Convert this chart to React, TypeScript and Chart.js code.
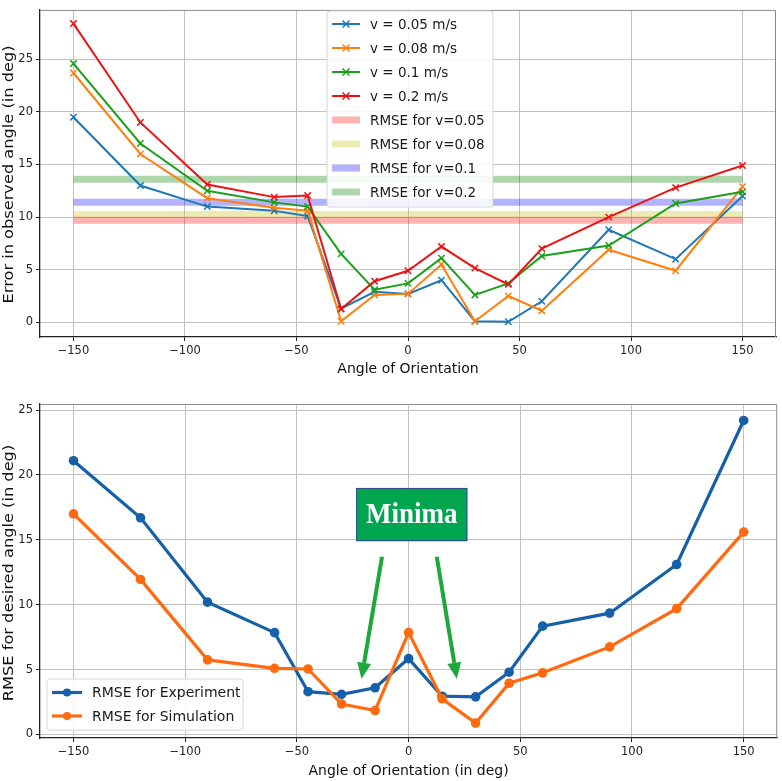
import { useEffect, useRef } from 'react';
import { Chart, registerables } from 'chart.js';

Chart.register(...registerables);

Chart.defaults.font.family = "'DejaVu Sans', sans-serif";
Chart.defaults.color = '#222';

// angles of orientation shared by both plots
const angles = [-150, -120, -90, -60, -45, -30, -15, 0, 15, 30, 45, 60, 90, 120, 150];

// top plot: error in observed angle per speed
const err005 = [19.5, 13.0, 11.0, 10.6, 10.1, 1.3, 2.9, 2.7, 4.0, 0.1, 0.05, 2.0, 8.8, 6.0, 12.0];
const err008 = [23.7, 16.0, 11.8, 10.9, 10.6, 0.1, 2.6, 2.7, 5.5, 0.1, 2.5, 1.1, 6.9, 4.9, 12.9];
const err01 = [24.6, 17.0, 12.5, 11.4, 11.0, 6.5, 3.1, 3.7, 6.1, 2.6, 3.7, 6.3, 7.3, 11.3, 12.4];
const err02 = [28.4, 19.0, 13.1, 11.9, 12.05, 1.25, 3.9, 4.9, 7.2, 5.15, 3.6, 7.0, 10.0, 12.8, 14.9];
const speedLabels = ['v = 0.05 m/s', 'v = 0.08 m/s', 'v = 0.1 m/s', 'v = 0.2 m/s'];
const speedColors = ['#1f77b4', '#ff7f0e', '#1aa01a', '#ee1111'];

// RMSE bands drawn across the angle span
const rmseLevels = [9.7, 10.25, 11.4, 13.6];
const rmseLabels = ['RMSE for v=0.05', 'RMSE for v=0.08', 'RMSE for v=0.1', 'RMSE for v=0.2'];
const rmseColors = ['rgba(255,0,0,0.3)', 'rgba(191,191,0,0.3)', 'rgba(0,0,255,0.3)', 'rgba(0,128,0,0.32)'];
const rmseSpan = [-150, 150];

// bottom plot: RMSE for desired angle
const rmseExperiment = [21.1, 16.7, 10.2, 7.85, 3.3, 3.1, 3.6, 5.85, 2.95, 2.9, 4.8, 8.35, 9.35, 13.1, 24.2];
const rmseSimulation = [17.0, 11.95, 5.75, 5.1, 5.05, 2.35, 1.85, 7.85, 2.75, 0.88, 3.95, 4.75, 6.75, 9.7, 15.6];
const bottomLabels = ['RMSE for Experiment', 'RMSE for Simulation'];
const bottomColors = ['#1560a8', '#ff6a10'];

const xTicks = [-150, -100, -50, 0, 50, 100, 150];
const yTicks = [0, 5, 10, 15, 20, 25];

const pts = (ys: number[]) => ys.map((y, i) => ({ x: angles[i], y }));
const minus = (v: number | string) => String(v).replace('-', '\u2212');

type LegendItem = { label: string; color: string; kind: 'cross' | 'band' | 'dot' };

// spines (top/right in grey), y title and an in-plot legend box like matplotlib's
const framePlugin = {
  id: 'frame',
  afterDraw(chart: any, _args: any, opts: any) {
    const { ctx, chartArea: a } = chart;
    ctx.save();
    ctx.strokeStyle = '#8a8a8a';
    ctx.lineWidth = 1;
    ctx.beginPath();
    ctx.moveTo(a.left, a.top + 0.5);
    ctx.lineTo(a.right - 0.5, a.top + 0.5);
    ctx.lineTo(a.right - 0.5, a.bottom);
    ctx.stroke();

    // y title: the source figure is stretched vertically, so stretch along the text
    if (opts.yTitle) {
      ctx.save();
      ctx.translate(opts.yTitleX, (a.top + a.bottom) / 2 + (opts.yTitleShift || 0));
      ctx.rotate(-Math.PI / 2);
      ctx.scale(1.2, 1);
      ctx.font = "13.5px 'DejaVu Sans', sans-serif";
      ctx.fillStyle = '#111';
      ctx.textAlign = 'center';
      ctx.textBaseline = 'middle';
      ctx.fillText(opts.yTitle, 0, 0);
      ctx.restore();
    }

    const lg = opts.legend;
    if (lg) {
      ctx.fillStyle = 'rgba(255,255,255,0.85)';
      ctx.strokeStyle = '#d6d6d6';
      ctx.beginPath();
      ctx.roundRect(lg.x, lg.y, lg.w, lg.h, 3);
      ctx.fill();
      ctx.stroke();
      ctx.font = `${lg.fontSize}px 'DejaVu Sans', sans-serif`;
      ctx.textBaseline = 'middle';
      lg.items.forEach((it: LegendItem, i: number) => {
        const cy = lg.firstRow + i * lg.rowH;
        const x0 = lg.x + lg.handleX0;
        const x1 = lg.x + lg.handleX1;
        const cx = (x0 + x1) / 2;
        ctx.strokeStyle = it.color;
        ctx.lineCap = 'butt';
        ctx.lineWidth = it.kind === 'band' ? 7 : it.kind === 'dot' ? 3.2 : 2;
        ctx.beginPath();
        ctx.moveTo(x0, cy);
        ctx.lineTo(x1, cy);
        ctx.stroke();
        if (it.kind === 'cross') {
          ctx.lineWidth = 1.5;
          ctx.beginPath();
          ctx.moveTo(cx - 3.5, cy - 3.5);
          ctx.lineTo(cx + 3.5, cy + 3.5);
          ctx.moveTo(cx - 3.5, cy + 3.5);
          ctx.lineTo(cx + 3.5, cy - 3.5);
          ctx.stroke();
        } else if (it.kind === 'dot') {
          ctx.fillStyle = it.color;
          ctx.beginPath();
          ctx.arc(cx, cy, 4, 0, Math.PI * 2);
          ctx.fill();
        }
        ctx.fillStyle = '#1a1a1a';
        ctx.fillText(it.label, lg.x + lg.textX, cy + 1);
      });
    }
    ctx.restore();
  },
};

// "Minima" label with two arrows, placed in data coordinates
const minimaBox = { x0: -23.5, x1: 26.3, y0: 19.0, y1: 14.9 };
const minimaArrows = [
  { from: [-11.9, 13.7], to: [-21.1, 4.3] },
  { from: [12.6, 13.7], to: [21.6, 4.3] },
];

const minimaPlugin = {
  id: 'minima',
  afterDatasetsDraw(chart: any) {
    const { ctx, scales } = chart;
    const sx = (v: number) => scales.x.getPixelForValue(v);
    const sy = (v: number) => scales.y.getPixelForValue(v);
    ctx.save();
    const bx = sx(minimaBox.x0);
    const by = sy(minimaBox.y0);
    const bw = sx(minimaBox.x1) - bx;
    const bh = sy(minimaBox.y1) - by;
    ctx.fillStyle = '#00a54f';
    ctx.fillRect(bx, by, bw, bh);
    ctx.strokeStyle = '#2f4f8f';
    ctx.lineWidth = 1;
    ctx.strokeRect(bx + 0.5, by + 0.5, bw - 1, bh - 1);
    ctx.save();
    ctx.fillStyle = '#ffffff';
    ctx.font = "bold 27px 'Liberation Serif', serif";
    ctx.textAlign = 'center';
    ctx.textBaseline = 'middle';
    ctx.translate(bx + bw / 2, by + bh / 2 + 1);
    ctx.scale(1, 1.12);
    ctx.fillText('Minima', 0, 0);
    ctx.restore();

    ctx.strokeStyle = '#1ea83c';
    ctx.fillStyle = '#1ea83c';
    minimaArrows.forEach(({ from, to }) => {
      const x0 = sx(from[0]);
      const y0 = sy(from[1]);
      const x1 = sx(to[0]);
      const y1 = sy(to[1]);
      const ang = Math.atan2(y1 - y0, x1 - x0);
      const headLen = 16;
      const headW = 7;
      const bxh = x1 - headLen * Math.cos(ang);
      const byh = y1 - headLen * Math.sin(ang);
      ctx.lineWidth = 4;
      ctx.beginPath();
      ctx.moveTo(x0, y0);
      ctx.lineTo(bxh, byh);
      ctx.stroke();
      ctx.beginPath();
      ctx.moveTo(x1, y1);
      ctx.lineTo(bxh + headW * Math.sin(ang), byh - headW * Math.cos(ang));
      ctx.lineTo(bxh - headW * Math.sin(ang), byh + headW * Math.cos(ang));
      ctx.closePath();
      ctx.fill();
    });
    ctx.restore();
  },
};

const gridColor = '#c2c2c2';

function axes(opts: { yMin: number; yMax: number; xTitle: string; xHeight: number; xTitlePad: number }) {
  return {
    x: {
      type: 'linear' as const,
      min: -165,
      max: 165,
      afterBuildTicks: (s: any) => {
        s.ticks = xTicks.map((value) => ({ value }));
      },
      afterFit: (s: any) => {
        s.height = opts.xHeight;
      },
      ticks: { callback: (v: any) => minus(v), font: { size: 11.5 }, padding: 3, maxRotation: 0 },
      grid: { color: gridColor, tickColor: '#222', tickLength: 4 },
      border: { color: '#222', width: 1.3 },
      title: {
        display: true,
        text: opts.xTitle,
        font: { size: 14 },
        color: '#111',
        padding: { top: 0, bottom: opts.xTitlePad },
      },
    },
    y: {
      type: 'linear' as const,
      min: opts.yMin,
      max: opts.yMax,
      afterBuildTicks: (s: any) => {
        s.ticks = yTicks.map((value) => ({ value }));
      },
      afterFit: (s: any) => {
        s.width = 40;
      },
      ticks: { callback: (v: any) => minus(v), font: { size: 11.5 }, padding: 3 },
      grid: { color: gridColor, tickColor: '#222', tickLength: 4 },
      border: { color: '#222', width: 1.3 },
    },
  };
}

function ErrorChart() {
  const canvasRef = useRef<HTMLCanvasElement>(null);
  const chartRef = useRef<Chart | null>(null);

  useEffect(() => {
    if (!canvasRef.current) return;
    chartRef.current?.destroy();

    const series = [err005, err008, err01, err02];
    const lineSets = series.map((ys, i) => ({
      label: speedLabels[i],
      data: pts(ys),
      borderColor: speedColors[i],
      backgroundColor: speedColors[i],
      borderWidth: 2,
      pointStyle: 'crossRot' as const,
      pointRadius: 4.5,
      pointBorderWidth: 1.5,
      order: 3 - i,
    }));
    const bandSets = rmseLevels.map((lvl, i) => ({
      label: rmseLabels[i],
      data: rmseSpan.map((x) => ({ x, y: lvl })),
      borderColor: rmseColors[i],
      backgroundColor: rmseColors[i],
      borderWidth: 7,
      borderCapStyle: 'butt' as const,
      pointRadius: 0,
      order: 10,
    }));

    chartRef.current = new Chart(canvasRef.current, {
      type: 'line',
      data: { datasets: [...lineSets, ...bandSets] },
      plugins: [framePlugin],
      options: {
        responsive: true,
        maintainAspectRatio: false,
        animation: false,
        layout: { padding: { top: 3, right: 2, left: 0, bottom: 0 } },
        plugins: {
          legend: { display: false },
          tooltip: { enabled: false },
          frame: {
            yTitle: 'Error in observed angle (in deg)',
            yTitleX: 9,
            yTitleShift: 1,
            legend: {
              x: 327,
              y: 11,
              w: 166,
              h: 196,
              firstRow: 24,
              rowH: 24,
              handleX0: 5,
              handleX1: 33,
              textX: 43,
              fontSize: 13.5,
              items: [
                ...speedLabels.map((label, i) => ({ label, color: speedColors[i], kind: 'cross' })),
                ...rmseLabels.map((label, i) => ({ label, color: rmseColors[i], kind: 'band' })),
              ],
            },
          },
        } as any,
        scales: axes({
          yMin: -1.4,
          yMax: 29.7,
          xTitle: 'Angle of Orientation',
          xHeight: 53,
          xTitlePad: 12,
        }),
      },
    });

    return () => {
      chartRef.current?.destroy();
    };
  }, []);

  return <canvas ref={canvasRef} />;
}

function RmseChart() {
  const canvasRef = useRef<HTMLCanvasElement>(null);
  const chartRef = useRef<Chart | null>(null);

  useEffect(() => {
    if (!canvasRef.current) return;
    chartRef.current?.destroy();

    const series = [rmseExperiment, rmseSimulation];

    chartRef.current = new Chart(canvasRef.current, {
      type: 'line',
      data: {
        datasets: series.map((ys, i) => ({
          label: bottomLabels[i],
          data: pts(ys),
          borderColor: bottomColors[i],
          backgroundColor: bottomColors[i],
          borderWidth: 3.2,
          pointRadius: 4.8,
          pointBorderWidth: 0,
          order: 1 - i,
        })),
      },
      plugins: [framePlugin, minimaPlugin],
      options: {
        responsive: true,
        maintainAspectRatio: false,
        animation: false,
        layout: { padding: { top: 14, right: 2, left: 0, bottom: 0 } },
        plugins: {
          legend: { display: false },
          tooltip: { enabled: false },
          frame: {
            yTitle: 'RMSE for desired angle (in deg)',
            yTitleX: 9,
            yTitleShift: 2,
            legend: {
              x: 47,
              y: 289,
              w: 196,
              h: 51,
              firstRow: 302.5,
              rowH: 23.5,
              handleX0: 5,
              handleX1: 35,
              textX: 45,
              fontSize: 14,
              items: bottomLabels.map((label, i) => ({ label, color: bottomColors[i], kind: 'dot' })),
            },
          },
        } as any,
        scales: axes({
          yMin: -0.27,
          yMax: 25.47,
          xTitle: 'Angle of Orientation (in deg)',
          xHeight: 43,
          xTitlePad: 1,
        }),
      },
    });

    return () => {
      chartRef.current?.destroy();
    };
  }, []);

  return <canvas ref={canvasRef} />;
}

export default function App() {
  return (
    <div style={{ position: 'absolute', left: 0, top: 0, width: 782, height: 781, background: '#fff' }}>
      <div style={{ position: 'relative', width: 782, height: 390 }}>
        <ErrorChart />
      </div>
      <div style={{ position: 'relative', width: 782, height: 391 }}>
        <RmseChart />
      </div>
    </div>
  );
}
